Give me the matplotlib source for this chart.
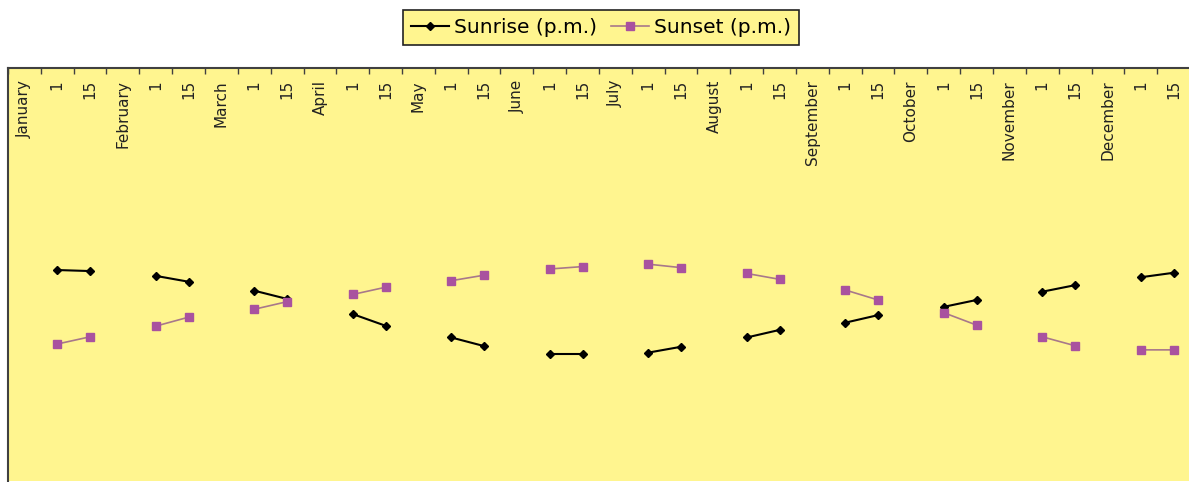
import numpy as np
import matplotlib
matplotlib.use("Agg")
import matplotlib.pyplot as plt

# ---- data ----
months = ["January", "February", "March", "April", "May", "June",
          "July", "August", "September", "October", "November", "December"]
days = ["1", "15"]

# values for the 1st and 15th of each month (Jan 1, Jan 15, Feb 1, ...)
sunrise = [6.13, 6.10, 5.96, 5.79, 5.53, 5.29, 4.85, 4.51, 4.17, 3.92, 3.69, 3.69,
           3.73, 3.90, 4.17, 4.39, 4.60, 4.82, 5.06, 5.26, 5.50, 5.69, 5.92, 6.05]
sunset = [3.98, 4.19, 4.50, 4.76, 4.99, 5.21, 5.42, 5.63, 5.82, 5.98, 6.16, 6.23,
          6.30, 6.20, 6.03, 5.86, 5.55, 5.26, 4.89, 4.53, 4.19, 3.93, 3.81, 3.81]

# ---- build category axis ----
categories = []
for m in months:
    categories += [m] + days
n = len(categories)
x = np.arange(n)

def expand(vals):
    y = np.full(n, np.nan)
    y[1::3] = vals[0::2]
    y[2::3] = vals[1::2]
    return y

y_rise = expand(sunrise)
y_set = expand(sunset)

# ---- figure ----
W, H = 1189, 482
fig = plt.figure(figsize=(W / 100, H / 100), dpi=100)
fig.patch.set_facecolor("white")

left_px, right_px, top_px, bottom_px = 8, 1190, 68, 481
ax = fig.add_axes([left_px / W, 1 - bottom_px / H,
                   (right_px - left_px) / W, (bottom_px - top_px) / H])
yellow = "#FFF58F"
ax.set_facecolor(yellow)

ax.plot(x, y_rise, color="black", lw=1.5, marker="D", ms=4.5,
        mfc="black", mec="black", label="Sunrise (p.m.)", zorder=3)
ax.plot(x, y_set, color="#A8788A", lw=1.2, marker="s", ms=6,
        mfc="#A9529F", mec="#A9529F", label="Sunset (p.m.)", zorder=4)

ax.set_xlim(-0.5, n - 0.5)
ax.set_ylim(0, 12)
ax.set_yticks([])

# ticks at category boundaries on top
ax.set_xticks(np.arange(-0.5, n, 1.0))
ax.tick_params(axis="x", which="major", top=True, bottom=False,
               labeltop=False, labelbottom=False, direction="in",
               length=4, width=1, color="#404040")

for sp in ["right", "bottom"]:
    ax.spines[sp].set_visible(False)
for sp in ["left", "top"]:
    ax.spines[sp].set_color("#404040")
    ax.spines[sp].set_linewidth(1.5)

# category labels inside, just below top border
label_y = 1 - 12 / (bottom_px - top_px)
for xi, lab in zip(x, categories):
    ax.text(xi, label_y, lab, transform=ax.get_xaxis_transform(),
            rotation=90, ha="center", va="top", fontsize=11,
            color="#222222", family="DejaVu Sans")

leg = fig.legend(loc="center", bbox_to_anchor=(601 / W, 1 - 27.5 / H),
                 ncol=2, fontsize=14.5, frameon=True, fancybox=False,
                 handlelength=1.9, handletextpad=0.25, columnspacing=0.7,
                 borderpad=0.4, borderaxespad=0)
leg.get_frame().set_facecolor(yellow)
leg.get_frame().set_edgecolor("#222222")
leg.get_frame().set_linewidth(1.2)
leg.get_frame().set_alpha(1)

fig.savefig("out.png", dpi=100, facecolor="white")
